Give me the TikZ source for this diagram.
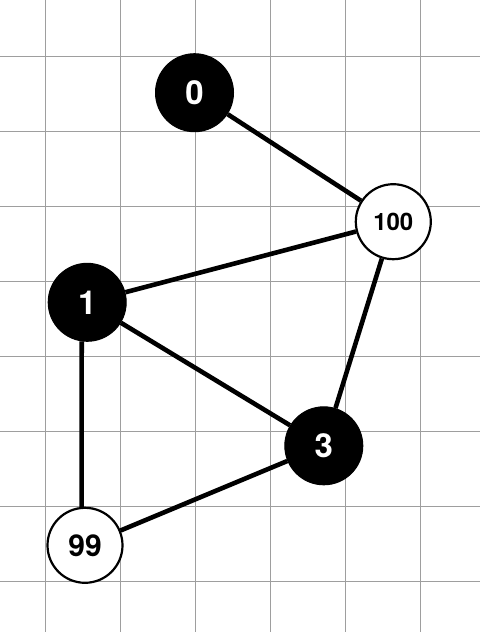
\documentclass[tikz,border=0pt]{standalone}
\usepackage{fontspec}
\setmainfont{TeX Gyre Heros}
\usepackage{tikz}
\usetikzlibrary{positioning}

\begin{document}
\begin{tikzpicture}[x=1pt,y=-1pt,
  gridline/.style={draw=black!38,line width=1.2pt},
  taken/.style={circle,draw,fill=black,text=white,inner sep=0pt,minimum size=78pt,
    line width=1pt,font=\fontsize{33}{33}\selectfont\bfseries},
  free/.style={circle,draw,fill=white,inner sep=0pt,minimum size=75pt,
    line width=2.2pt,font=\fontsize{30}{30}\selectfont\bfseries},
  edge/.style={line width=4.6pt}]
\useasboundingbox (0,0) rectangle (480,632);
\foreach \x in {45.3,120.3,195.3,270.3,345.3,420.3} \draw[gridline] (\x,0)--(\x,632);
\foreach \y in {56.3,131.3,206.3,281.3,356.3,431.3,506.3,581.3} \draw[gridline] (0,\y)--(480,\y);
\node[taken] (n0) at (194.5,92.7) {0};
\node[free,font=\fontsize{24}{24}\selectfont\bfseries] (n100) at (393.3,221.7) {100};
\node[taken] (n1) at (87.2,302.3) {1};
\node[taken] (n3) at (323.8,445.8) {3};
\node[free] (n99) at (85,545.3) {99};
\foreach \a/\b in {n0/n100,n100/n1,n100/n3,n1/n3,n99/n3} \draw[edge] (\a)--(\b);
\draw[edge] (n1.-98)--(n99.95);
\end{tikzpicture}
\end{document}
